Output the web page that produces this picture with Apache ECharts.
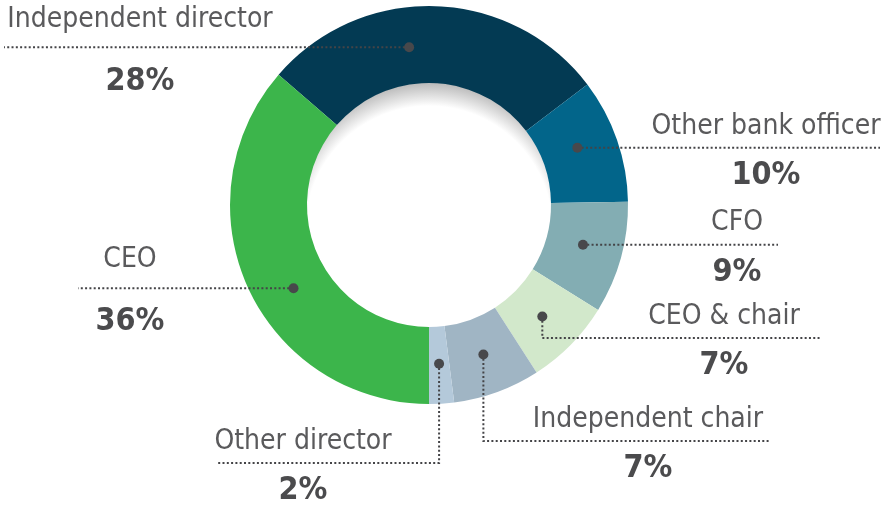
<!DOCTYPE html>
<html>
<head>
<meta charset="utf-8">
<script src="https://cdn.jsdelivr.net/npm/echarts@6/dist/echarts.min.js"></script>
<style>
html, body { margin: 0; padding: 0; background: #fff; }
#chart { width: 882px; height: 507px; }
</style>
</head>
<body>
<div id="chart"></div>
<script>
const roles = ['Independent director', 'Other bank officer', 'CFO', 'CEO & chair', 'Independent chair', 'Other director', 'CEO'];
const shares = [28, 10, 9, 7, 7, 2, 36];
const colors = ['#033a53', '#02658a', '#83adb3', '#d2e8cb', '#a0b5c4', '#b4c9da', '#3cb54b'];

// label placement: text centre x, dotted line y (null = level with dot), line end x
const textX = [140, 766, 737, 724, 648, 303, 130];
const lineY = [null, null, null, 338, 441, 463, null];
const lineEnd = [4, 880, 778, 820, 770, 216, 78];
const wideGap = [1, 0, 0, 0, 0, 0, 1];
const dotNudge = [-9, -2, -1, 0, 0, 0, -7]; // degrees

const cx = 429, cy = 205, r0 = 122, r1 = 199, rDot = 159;
const narrow = '"Liberation Sans Narrow", "DejaVu Sans Condensed", "Roboto", sans-serif';

const total = shares.reduce((a, b) => a + b, 0);
// last slice (CEO) ends straight down; angles clockwise from north
const start = 180 + shares[shares.length - 1] / total * 360;

let acc = start;
const dots = shares.map((v, i) => {
  const span = v / total * 360;
  const a = (acc + span / 2 + dotNudge[i]) * Math.PI / 180;
  acc += span;
  return [cx + rDot * Math.sin(a), cy - rDot * Math.cos(a)];
});
const lineAt = i => (lineY[i] == null ? dots[i][1] : lineY[i]);

const chart = echarts.init(document.getElementById('chart'));

// inner shadow of the hole
const graphics = [{
  type: 'circle',
  z: 0,
  silent: true,
  shape: { cx: cx, cy: cy, r: r0 + 0.5 },
  style: {
    fill: {
      type: 'radial', x: 0.5, y: 0.6, r: 0.6,
      colorStops: [
        { offset: 0, color: '#ffffff' },
        { offset: 0.84, color: '#ffffff' },
        { offset: 1, color: '#b9b9b9' }
      ]
    }
  }
}];
// leader lines + dots
dots.forEach((d, i) => {
  const ly = lineAt(i);
  graphics.push({
    type: 'polyline', z: 99, silent: true,
    shape: { points: [[d[0], d[1]], [d[0], ly], [lineEnd[i], ly]] },
    style: { stroke: '#444447', lineWidth: 2, lineDash: [2, 2.3], fill: null }
  });
  graphics.push({
    type: 'circle', z: 100, silent: true,
    shape: { cx: d[0], cy: d[1], r: 5 },
    style: { fill: '#48484b' }
  });
});

chart.setOption({
  animation: false,
  backgroundColor: '#fff',
  graphic: graphics,
  series: [{
    type: 'pie',
    z: 2,
    center: [cx, cy],
    radius: [r0, r1],
    startAngle: 90 - start,
    clockwise: true,
    silent: true,
    avoidLabelOverlap: false,
    itemStyle: { borderWidth: 0 },
    data: roles.map((name, i) => ({ name: name, value: shares[i], itemStyle: { color: colors[i] } })),
    label: {
      show: true,
      position: 'outside',
      formatter: p => {
        const s = wideGap[p.dataIndex] ? 'w' : '';
        return '{n' + s + '|' + p.name + '}\n{p' + s + '|' + p.value + '%}';
      },
      rich: {
        n: { fontFamily: narrow, fontSize: 28, color: '#5a5a5c', lineHeight: 49, align: 'center' },
        p: { fontFamily: narrow, fontSize: 32, fontWeight: 'bold', color: '#4b4b4d', lineHeight: 49, align: 'center' },
        nw: { fontFamily: narrow, fontSize: 28, color: '#5a5a5c', lineHeight: 62, align: 'center' },
        pw: { fontFamily: narrow, fontSize: 32, fontWeight: 'bold', color: '#4b4b4d', lineHeight: 62, align: 'center' }
      }
    },
    labelLine: { show: false },
    labelLayout: function (p) {
      const i = p.dataIndex;
      return {
        x: textX[i],
        y: lineAt(i) + 3,
        align: 'center',
        verticalAlign: 'middle'
      };
    }
  }]
});
</script>
</body>
</html>
